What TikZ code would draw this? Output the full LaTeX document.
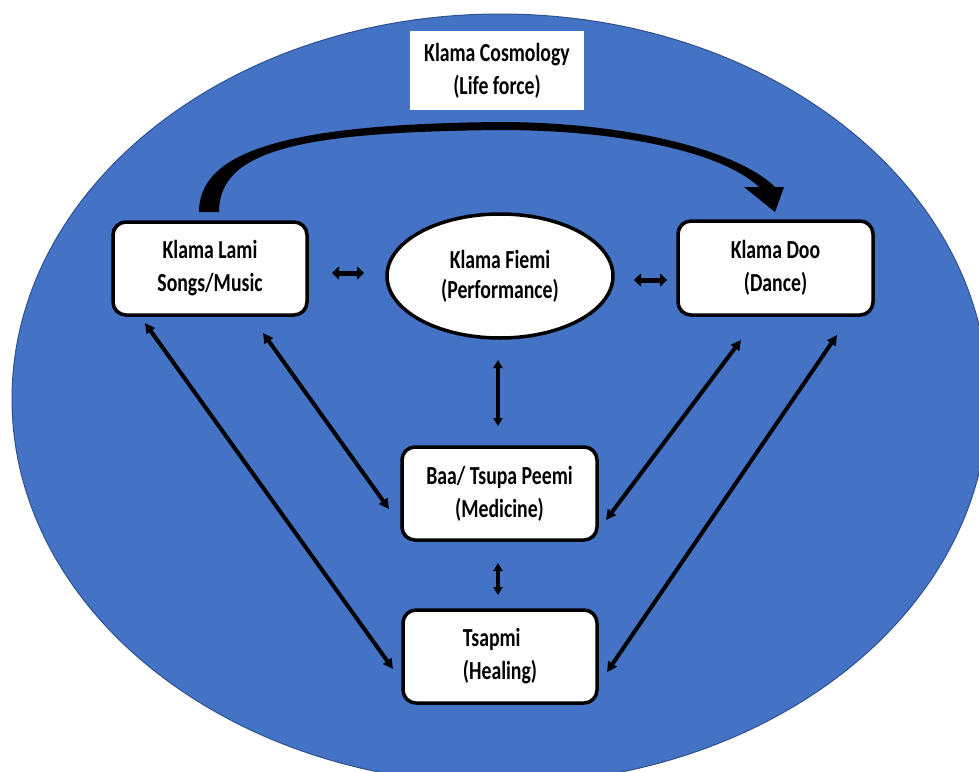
\documentclass[tikz,border=0pt]{standalone}
\usepackage{fontspec}
\newfontfamily\diagfont[FakeStretch=0.76]{Carlito}
\usetikzlibrary{arrows.meta,shapes.geometric,calc}
\definecolor{cosmoblue}{HTML}{4472C4}
\definecolor{cosmoedge}{HTML}{2F528F}

\begin{document}
\begin{tikzpicture}[x=1pt,y=-1pt,
  every node/.style={font=\diagfont\bfseries\fontsize{26}{33}\selectfont,
    align=center, inner sep=0pt, outer sep=0pt},
  concept/.style={draw=black, line width=3.5pt, fill=white, rounded corners=13pt,
    minimum width=194pt, minimum height=93pt},
  hub/.style={ellipse, draw=black, line width=3.5pt, fill=white,
    minimum width=226pt, minimum height=124pt},
  titlebox/.style={fill=white, minimum width=174pt, minimum height=79pt},
  link/.style={line width=4pt,
    {Triangle[length=10pt,width=10pt]}-{Triangle[length=10pt,width=10pt]}},
  vlink/.style={line width=3.5pt,
    {Triangle[length=8pt,width=9pt]}-{Triangle[length=8pt,width=9pt]}},
  hlink/.style={line width=5pt,
    {Triangle[length=7pt,width=13pt]}-{Triangle[length=7pt,width=13pt]}}
]
% canvas
\useasboundingbox (0,0) rectangle (979,771);
\fill[white] (0,0) rectangle (979,771);

% the cosmology field
\begin{scope}
  \clip (0,0) rectangle (979,771);
  \draw[fill=cosmoblue, draw=cosmoedge, line width=1pt]
    (500,399) ellipse [x radius=488, y radius=385];
\end{scope}

% title
\node[titlebox] (cosmo) at (497,70.5) {Klama Cosmology\\(Life force)};

% concepts
\node[concept] (lami) at (210,268.5) {Klama Lami\\Songs/Music};
\node[hub] (fiemi) at (500,276) {\raisebox{-3pt}{Klama Fiemi}\\(Performance)};
\node[concept, minimum width=195pt, minimum height=94pt] (doo) at (775.5,268) {Klama Doo\\(Dance)};
\node[concept, minimum width=195pt] (baa) at (499.5,493.5) {Baa/ Tsupa Peemi\\(Medicine)};
\node[concept, align=left] (tsapmi) at (500,656.5) {Tsapmi\\(Healing)};

% sweeping arrow from songs to dance
\fill[black] (199,212) .. controls (199,150) and (290,124) .. (500,122)
  .. controls (620,122) and (735,148) .. (775,187)
  -- (784,187) -- (775,212) -- (744,187) -- (759,187)
  .. controls (722,152) and (620,130) .. (500,130)
  .. controls (300,132) and (219,150) .. (219,212) -- cycle;

% horizontal links
\draw[hlink] ($(lami.east)+(25,4.5)$) -- ($(fiemi.west)+(-23,-3)$);
\draw[hlink] ($(fiemi.east)+(21,4)$) -- ($(doo.west)+(-11,12)$);

% vertical links
\draw[vlink] ($(fiemi.south)+(-2,22)$) -- ($(baa.north)+(-1.5,-21)$);
\draw[vlink] ($(baa.south)+(-1.5,23)$) -- ($(tsapmi.north)+(-2,-15)$);

% diagonal links
\draw[link] ($(lami.south west)+(32,8)$) -- ($(tsapmi.west)+(-10,12.5)$);
\draw[link] ($(lami.south east)+(-44,18)$) -- ($(baa.west)+(-13,15.5)$);
\draw[link] ($(doo.south west)+(63,25)$) -- ($(baa.east)+(9,26.5)$);
\draw[link] ($(doo.south east)+(-36,20)$) -- ($(tsapmi.east)+(10,15.5)$);
\end{tikzpicture}
\end{document}
